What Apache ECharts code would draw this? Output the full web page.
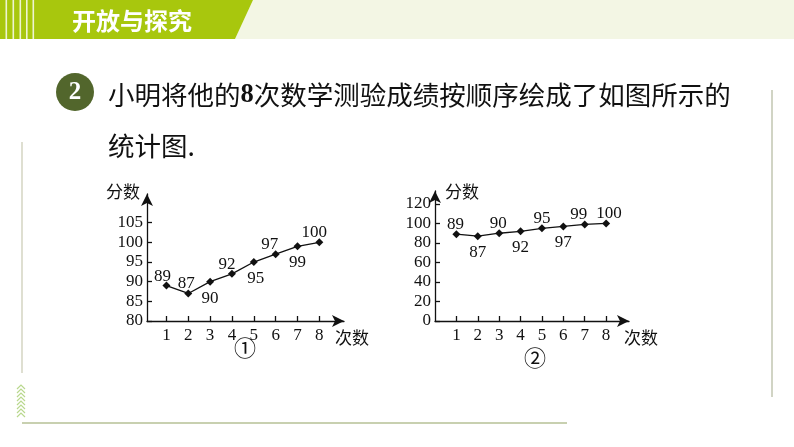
<!DOCTYPE html>
<html><head><meta charset="utf-8">
<script src="https://cdn.jsdelivr.net/npm/echarts@6/dist/echarts.min.js"></script>
<style>html,body{margin:0;padding:0;background:#fff}#c{width:794px;height:447px}</style>
</head><body><div id="c"></div>
<script>
const attempts = ['1','2','3','4','5','6','7','8'];
const scores = [89, 87, 90, 92, 95, 97, 99, 100];
const yTicks1 = [80, 85, 90, 95, 100, 105];
const yTicks2 = [0, 20, 40, 60, 80, 100, 120];
// label placement styles (not data)
const labelSide1 = ['top','top','bottom','top','bottom','top','bottom','top'];
const labelSide2 = ['top','bottom','top','bottom','top','bottom','top','top'];
const labelShift1 = [-4, -2, 0, -5, 2, -6, 0, -5];
const labelShift2 = [-1, 0, -1, 0, 0, 0, -6, 3];

const SERIF = '"Liberation Serif","Noto Sans CJK SC",serif';
const CJK = '"Noto Sans CJK SC","Liberation Serif",sans-serif';
const xPos = attempts.map((a, i) => i + 1);

function mkData(side, shift) {
  return scores.map((v, i) => ({
    value: [xPos[i], v],
    label: side[i] === 'top'
      ? { position: 'top', distance: -3, offset: [shift[i], 0] }
      : { position: 'bottom', distance: 4, offset: [shift[i], 0] }
  }));
}
function xAxis(gi, min, max, nameGap) {
  return {
    type: 'value', gridIndex: gi, min: min, max: max,
    splitLine: { show: false },
    axisLine: { show: true, symbol: ['none', 'arrow'], symbolSize: [9, 12],
      lineStyle: { color: '#111', width: 1.3 } },
    axisTick: { show: true, inside: true, length: 5, customValues: xPos,
      lineStyle: { color: '#111', width: 1.3 } },
    axisLabel: { customValues: xPos, margin: 6, color: '#111', fontSize: 17, fontFamily: SERIF,
      formatter: v => attempts[Math.round(v) - 1] || '' },
    name: '次数', nameLocation: 'end', nameGap: nameGap,
    nameTextStyle: { color: '#111', fontSize: 17, fontFamily: CJK, align: 'center', verticalAlign: 'top', padding: [8, 0, 0, 0] }
  };
}
function yAxis(gi, min, max, ticks, nameAlign, namePad, nameGap) {
  return {
    type: 'value', gridIndex: gi, min: min, max: max,
    splitLine: { show: false },
    axisLine: { show: true, symbol: ['none', 'arrow'], symbolSize: [9, 12],
      lineStyle: { color: '#111', width: 1.3 } },
    axisTick: { show: true, inside: true, length: 5, customValues: ticks,
      lineStyle: { color: '#111', width: 1.3 } },
    axisLabel: { customValues: ticks, margin: 4, color: '#111', fontSize: 17, fontFamily: SERIF },
    name: '分数', nameLocation: 'end', nameGap: nameGap,
    nameTextStyle: { color: '#111', fontSize: 17, fontFamily: CJK, align: nameAlign, verticalAlign: 'middle', padding: namePad }
  };
}
function series(gi, side, shift) {
  return {
    type: 'line', xAxisIndex: gi, yAxisIndex: gi,
    data: mkData(side, shift),
    symbol: 'diamond', symbolSize: 8,
    itemStyle: { color: '#111' },
    lineStyle: { color: '#111', width: 1.3 },
    label: { show: true, color: '#111', fontSize: 17, fontFamily: SERIF,
      formatter: p => String(p.value[1]) },
    animation: false
  };
}

const chevrons = [];
for (let i = 0; i < 8; i++) {
  chevrons.push({ type: 'polyline', silent: true,
    shape: { points: [[17, 389 + i * 4], [21, 385 + i * 4], [25, 389 + i * 4]] },
    style: { stroke: '#b9d88e', lineWidth: 1.2, fill: null } });
}

const chart = echarts.init(document.getElementById('c'), null, { renderer: 'canvas' });
chart.setOption({
  backgroundColor: '#fff',
  animation: false,
  grid: [
    { left: 147, top: 194, right: 450, bottom: 126 },
    { left: 435, top: 191, right: 165, bottom: 126 }
  ],
  xAxis: [xAxis(0, 0.11, 9.13, 8), xAxis(1, 0, 9.07, 12)],
  yAxis: [yAxis(0, 80, 112.3, yTicks1, 'right', [0, 7, 0, 0], 2),
          yAxis(1, 0, 133.3, yTicks2, 'left', [0, 0, 0, 10], -1)],
  series: [series(0, labelSide1, labelShift1), series(1, labelSide2, labelShift2)],
  graphic: [
    { type: 'polygon', silent: true, shape: { points: [[253, 0], [794, 0], [794, 39], [235, 39]] }, style: { fill: '#f3f6e4' } },
    { type: 'polygon', silent: true, shape: { points: [[0, 0], [253, 0], [235, 39], [0, 39]] }, style: { fill: '#a8c70d' } },
    { type: 'rect', silent: true, shape: { x: 5.5, y: 0, width: 1.6, height: 39 }, style: { fill: '#eef4d2' } },
    { type: 'rect', silent: true, shape: { x: 12.5, y: 0, width: 1.6, height: 39 }, style: { fill: '#eef4d2' } },
    { type: 'rect', silent: true, shape: { x: 19.5, y: 0, width: 1.6, height: 39 }, style: { fill: '#eef4d2' } },
    { type: 'rect', silent: true, shape: { x: 26, y: 0, width: 1.6, height: 39 }, style: { fill: '#eef4d2' } },
    { type: 'rect', silent: true, shape: { x: 32.5, y: 0, width: 1.6, height: 39 }, style: { fill: '#eef4d2' } },
    { type: 'text', silent: true, x: 72, y: 21, style: { text: '开放与探究', fill: '#fff', fontSize: 24, fontWeight: 'bold', fontFamily: CJK, verticalAlign: 'middle' } },
    { type: 'circle', silent: true, shape: { cx: 75, cy: 92, r: 19 }, style: { fill: '#52662c' } },
    { type: 'text', silent: true, x: 75, y: 93, style: { text: '2', fill: '#fff', fontSize: 25, fontWeight: 'bold', fontFamily: SERIF, align: 'center', verticalAlign: 'middle' } },
    { type: 'text', silent: true, x: 108, y: 95, style: { text: '小明将他的{b|8}次数学测验成绩按顺序绘成了如图所示的', fill: '#111', fontSize: 26.5, fontFamily: CJK, verticalAlign: 'middle',
        rich: { b: { fontFamily: SERIF, fontWeight: 'bold', fontSize: 26.5, fill: '#111' } } } },
    { type: 'text', silent: true, x: 108, y: 146, style: { text: '统计图.', fill: '#111', fontSize: 26.5, fontFamily: CJK, verticalAlign: 'middle' } },
    { type: 'text', silent: true, x: 245, y: 348, style: { text: '①', fill: '#111', fontSize: 22, fontFamily: CJK, align: 'center', verticalAlign: 'middle' } },
    { type: 'text', silent: true, x: 535, y: 358, style: { text: '②', fill: '#111', fontSize: 22, fontFamily: CJK, align: 'center', verticalAlign: 'middle' } },
    { type: 'line', silent: true, shape: { x1: 772, y1: 90, x2: 772, y2: 397 }, style: { stroke: '#a3a98a', lineWidth: 1 } },
    { type: 'line', silent: true, shape: { x1: 22, y1: 142, x2: 22, y2: 373 }, style: { stroke: '#c9cab2', lineWidth: 1.2 } },
    { type: 'line', silent: true, shape: { x1: 22, y1: 423, x2: 567, y2: 423 }, style: { stroke: '#c8d0b0', lineWidth: 2 } }
  ].concat(chevrons)
});
</script>
</body></html>
